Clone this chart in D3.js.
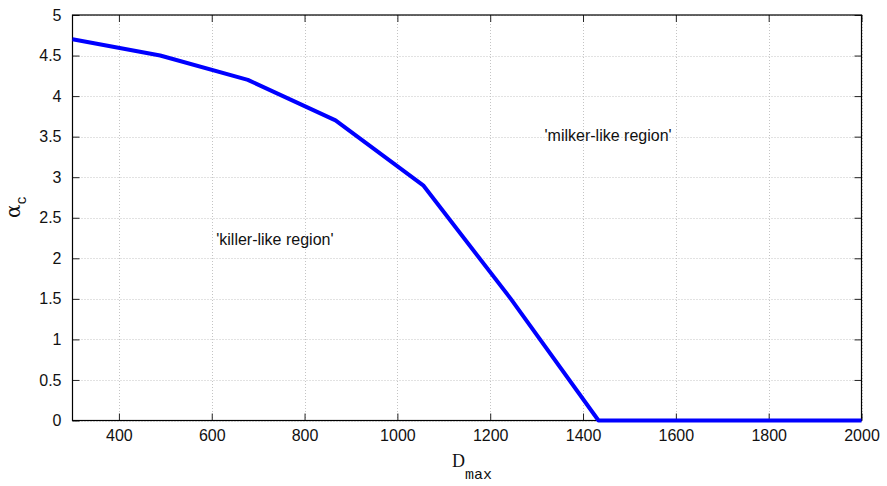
<!DOCTYPE html>
<html>
<head>
<meta charset="utf-8">
<script src="https://cdn.jsdelivr.net/npm/d3@7"></script>
<style>
  body { margin: 0; background: #fff; }
  svg text { font-family: "Liberation Sans", Arial, sans-serif; }
</style>
</head>
<body>
<svg id="chart" width="887" height="486"></svg>
<script>
// boundary between the two regions
const dmax = [300, 488.9, 677.8, 866.7, 1055.6, 1244.4, 1433.3, 1622.2, 1811.1, 2000];
const alphaC = [4.7, 4.5, 4.2, 3.7, 2.9, 1.5, 0, 0, 0, 0];
const xTicks = [400, 600, 800, 1000, 1200, 1400, 1600, 1800, 2000];
const yTicks = [0, 0.5, 1, 1.5, 2, 2.5, 3, 3.5, 4, 4.5, 5];
const notes = [
  { text: "'killer-like region'", x: 736, y: 2.21 },
  { text: "'milker-like region'", x: 1454, y: 3.5 }
];

const svg = d3.select('#chart');
const m = { left: 72.5, right: 861.5, top: 15, bottom: 420.5 };

const x = d3.scaleLinear().domain([300, 2000]).range([m.left, m.right]);
const y = d3.scaleLinear().domain([0, 5]).range([m.bottom, m.top]);

// grid
const grid = svg.append('g').attr('stroke', '#c4c4c4').attr('stroke-width', 1)
  .attr('stroke-dasharray', '1,2');
xTicks.forEach(t => {
  grid.append('line').attr('x1', Math.round(x(t)) + 0.5).attr('x2', Math.round(x(t)) + 0.5)
    .attr('y1', m.top).attr('y2', m.bottom);
});
yTicks.forEach(t => {
  grid.append('line').attr('y1', Math.round(y(t)) + 0.5).attr('y2', Math.round(y(t)) + 0.5)
    .attr('x1', m.left).attr('x2', m.right);
});

// axes (ticks inward, boxed)
const tickLen = 7;
svg.append('g').attr('transform', `translate(0,${m.bottom})`)
  .call(d3.axisBottom(x).tickValues(xTicks).tickSizeInner(-tickLen).tickSizeOuter(0).tickPadding(tickLen + 2)
    .tickFormat(d3.format('d')));
svg.append('g').attr('transform', `translate(${m.left},0)`)
  .call(d3.axisLeft(y).tickValues(yTicks).tickSizeInner(-tickLen).tickSizeOuter(0).tickPadding(tickLen + 4)
    .tickFormat(d3.format('')));
svg.append('g').attr('transform', `translate(0,${m.top})`)
  .call(d3.axisTop(x).tickValues(xTicks).tickSizeInner(-tickLen).tickSizeOuter(0).tickFormat(''));
svg.append('g').attr('transform', `translate(${m.right},0)`)
  .call(d3.axisRight(y).tickValues(yTicks).tickSizeInner(-tickLen).tickSizeOuter(0).tickFormat(''));

svg.selectAll('.domain').remove();
svg.selectAll('.tick line').attr('stroke', '#222');
svg.selectAll('.tick text').attr('fill', '#111').style('font-size', '16px')
  .style('font-family', '"Liberation Sans", Arial, sans-serif');

svg.append('rect').attr('x', m.left).attr('y', m.top)
  .attr('width', m.right - m.left).attr('height', m.bottom - m.top)
  .attr('fill', 'none').attr('stroke', '#000').attr('stroke-width', 1.2);

// curve
const line = d3.line().x((d, i) => x(dmax[i])).y(d => y(d));
svg.append('path').datum(alphaC)
  .attr('d', line)
  .attr('fill', 'none')
  .attr('stroke', '#0000ff')
  .attr('stroke-width', 4)
  .attr('stroke-linejoin', 'round');

// region notes
svg.selectAll('.note').data(notes).enter().append('text')
  .attr('class', 'note')
  .attr('x', d => x(d.x))
  .attr('y', d => y(d.y))
  .attr('text-anchor', 'middle')
  .attr('dominant-baseline', 'middle')
  .style('font-size', '16px')
  .attr('fill', '#111')
  .text(d => d.text);

// x label: D_max
const xl = svg.append('text').attr('x', 472).attr('y', 467).attr('text-anchor', 'middle').attr('fill', '#111');
xl.append('tspan').style('font-family', '"Liberation Serif", serif').style('font-size', '18px').text('D');
xl.append('tspan').attr('dy', 12).style('font-family', '"Liberation Mono", monospace').style('font-size', '15px').text('max');

// y label: alpha_c
const yl = svg.append('text').attr('transform', 'translate(20,207) rotate(-90)')
  .attr('text-anchor', 'middle').attr('fill', '#111');
yl.append('tspan').style('font-family', '"DejaVu Serif", serif').style('font-size', '20px').text('α');
yl.append('tspan').attr('dy', 6).style('font-family', '"Liberation Mono", monospace').style('font-size', '14px').text('c');
</script>
</body>
</html>
